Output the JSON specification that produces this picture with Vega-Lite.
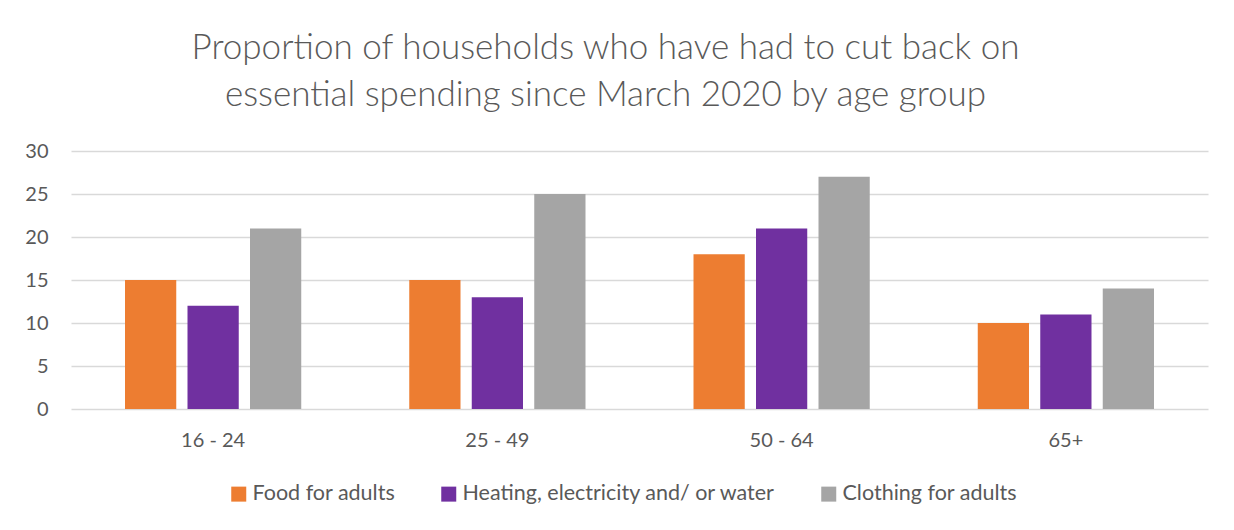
{
  "$schema": "https://vega.github.io/schema/vega-lite/v6.json",
  "width": 1137,
  "height": 258,
  "autosize": "none",
  "padding": {"left": 71, "top": 151, "right": 26, "bottom": 121},
  "background": "white",
  "title": {
    "text": ["Proportion of households who have had to cut back on", "essential spending since March 2020 by age group"],
    "font": "Lato",
    "fontWeight": 300,
    "fontSize": 35,
    "color": "#595959",
    "anchor": "middle",
    "frame": "group",
    "dx": -34,
    "offset": 28,
    "lineHeight": 47
  },
  "data": {
    "values": [
      {"age": "16 - 24", "category": "Food for adults", "value": 15},
      {"age": "16 - 24", "category": "Heating, electricity and/ or water", "value": 12},
      {"age": "16 - 24", "category": "Clothing for adults", "value": 21},
      {"age": "25 - 49", "category": "Food for adults", "value": 15},
      {"age": "25 - 49", "category": "Heating, electricity and/ or water", "value": 13},
      {"age": "25 - 49", "category": "Clothing for adults", "value": 25},
      {"age": "50 - 64", "category": "Food for adults", "value": 18},
      {"age": "50 - 64", "category": "Heating, electricity and/ or water", "value": 21},
      {"age": "50 - 64", "category": "Clothing for adults", "value": 27},
      {"age": "65+", "category": "Food for adults", "value": 10},
      {"age": "65+", "category": "Heating, electricity and/ or water", "value": 11},
      {"age": "65+", "category": "Clothing for adults", "value": 14}
    ]
  },
  "mark": {"type": "bar"},
  "encoding": {
    "x": {
      "field": "age",
      "type": "nominal",
      "sort": null,
      "scale": {"paddingInner": 0.38, "paddingOuter": 0.19},
      "axis": {
        "title": null,
        "labelAngle": 0,
        "ticks": false,
        "domain": false,
        "labelPadding": 21,
        "labelFont": "Lato",
        "labelFontSize": 20,
        "labelColor": "#595959"
      }
    },
    "xOffset": {
      "field": "category",
      "type": "nominal",
      "sort": ["Food for adults", "Heating, electricity and/ or water", "Clothing for adults"],
      "scale": {"paddingInner": 0.18, "paddingOuter": 0}
    },
    "y": {
      "field": "value",
      "type": "quantitative",
      "scale": {"domain": [0, 30], "nice": false},
      "axis": {
        "title": null,
        "values": [0, 5, 10, 15, 20, 25, 30],
        "ticks": false,
        "domain": false,
        "grid": true,
        "gridColor": "#D9D9D9",
        "gridWidth": 1.3,
        "labelPadding": 23,
        "labelFont": "Lato",
        "labelFontSize": 20,
        "labelColor": "#595959"
      }
    },
    "color": {
      "field": "category",
      "type": "nominal",
      "sort": ["Food for adults", "Heating, electricity and/ or water", "Clothing for adults"],
      "scale": {
        "domain": ["Food for adults", "Heating, electricity and/ or water", "Clothing for adults"],
        "range": ["#ED7D31", "#7030A0", "#A5A5A5"]
      },
      "legend": {
        "title": null,
        "orient": "none",
        "direction": "horizontal",
        "legendX": 157,
        "legendY": 332,
        "symbolType": "square",
        "symbolSize": 225,
        "symbolStrokeWidth": 0,
        "labelFont": "Lato",
        "labelFontSize": 21.5,
        "labelColor": "#595959",
        "labelLimit": 0,
        "labelOffset": 3,
        "columnPadding": 42
      }
    }
  },
  "config": {"view": {"stroke": null}}
}
